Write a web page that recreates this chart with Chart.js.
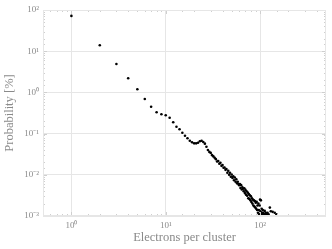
<!DOCTYPE html>
<html>
<head>
<meta charset="utf-8">
<script src="https://cdn.jsdelivr.net/npm/chart.js@4/dist/chart.umd.min.js"></script>
<style>
  html, body { margin: 0; padding: 0; background: #fff; }
  canvas { display: block; }
</style>
</head>
<body>
<canvas id="myChart" width="332" height="249"></canvas>
<script>
// electrons per cluster and measured probability in percent
var electrons = [1,2,3,4,5,6,7,8,9,10,
  11,12,13,14,15,16,17,18,19,20,
  21,22,23,24,25,26,27,28,29,30,
  31,32,33,34,35,36,37,38,39,40,
  41,42,43,44,45,46,47,48,49,50,
  51,52,53,54,55,56,57,58,59,60,
  61,62,63,64,65,66,67,68,69,70,
  71,72,73,74,75,76,77,78,79,80,
  81,82,83,84,85,86,87,88,89,90,
  91,92,93,94,95,96,97,98,99,100,
  101,102,103,104,105,106,107,108,110,112,
  113,115,118,120,123,127,130,136,143,149]
var probability = [72,14,4.9,2.2,1.19,0.69,0.45,0.33,0.294,0.278,
  0.243,0.188,0.147,0.127,0.105,0.089,0.077,0.067,0.0615,0.058,
  0.058,0.060,0.065,0.067,0.0625,0.057,0.048,0.040,0.036,0.034,
  0.030,0.028,0.026,0.024,0.021,0.0215,0.0185,0.0195,0.0165,0.0172,
  0.0148,0.0150,0.0132,0.0138,0.0112,0.0125,0.0100,0.0112,0.0090,0.0102,
  0.0084,0.0092,0.0074,0.0086,0.0068,0.0078,0.0062,0.0068,0.0060,0.0056,
  0.0060,0.0048,0.0056,0.0044,0.0050,0.0046,0.0040,0.0047,0.0036,0.0043,
  0.0033,0.0040,0.0031,0.0037,0.0027,0.0034,0.0026,0.0032,0.0024,0.0030,
  0.0022,0.0027,0.0020,0.0025,0.0018,0.0024,0.0017,0.0023,0.0016,0.0021,
  0.0015,0.0022,0.0014,0.0018,0.0012,0.0020,0.0014,0.0011,0.0018,0.0025,
  0.0013,0.0024,0.0011,0.0015,0.0012,0.0011,0.0014,0.0012,0.0011,0.00133,
  0.0011,0.0012,0.0011,0.0012,0.0011,0.0016,0.0013,0.00126,0.0012,0.0011]

var xMin = 0.5, xMax = 500
var yMin = 0.001, yMax = 100

var textColor = '#8a8a8a'
var gridColor = '#e6e6e6'

function isDecade(v) {
    var l = Math.log10(v)
    return Math.abs(l - Math.round(l)) < 1e-9
}
var supChars = {'0':'⁰','1':'¹','2':'²','3':'³','4':'⁴','5':'⁵','6':'⁶','7':'⁷','8':'⁸','9':'⁹','-':'⁻'}
function powLabel(v) {
    if (!isDecade(v)) return ''
    var e = String(Math.round(Math.log10(v)))
    return '10' + e.split('').map(function(c){ return supChars[c] }).join('')
}

// small inward ticks on all four sides, like the original frame
var minorTicks = {
    id: 'minorTicks',
    afterDraw: function(chart) {
        var ctx = chart.ctx, a = chart.chartArea
        var x = chart.scales.x, y = chart.scales.y
        ctx.save()
        ctx.strokeStyle = '#cfcfcf'
        ctx.lineWidth = 1
        ctx.beginPath()
        x.ticks.forEach(function(t){
            var px = Math.round(x.getPixelForValue(t.value)) + 0.5
            if (px < a.left || px > a.right) return
            var len = isDecade(t.value) ? 4 : 2
            ctx.moveTo(px, a.bottom); ctx.lineTo(px, a.bottom - len)
            ctx.moveTo(px, a.top); ctx.lineTo(px, a.top + len)
        })
        y.ticks.forEach(function(t){
            var py = Math.round(y.getPixelForValue(t.value)) + 0.5
            if (py < a.top || py > a.bottom) return
            var len = isDecade(t.value) ? 4 : 2
            ctx.moveTo(a.left, py); ctx.lineTo(a.left + len, py)
            ctx.moveTo(a.right, py); ctx.lineTo(a.right - len, py)
        })
        ctx.stroke()
        ctx.strokeStyle = gridColor
        ctx.strokeRect(a.left + 0.5, a.top + 0.5, a.right - a.left - 1, a.bottom - a.top - 1)
        ctx.restore()
    }
}

var points = electrons.map(function(n, i){ return {x: n, y: probability[i]} })

var myChart = document.getElementById('myChart').getContext('2d')
var chart = new Chart(myChart, {
    type: 'scatter',
    data: {
        datasets: [{
            data: points,
            backgroundColor: '#000',
            borderColor: '#000',
            pointRadius: 1.3,
            pointBorderWidth: 0
        }]
    },
    options: {
        responsive: false,
        animation: false,
        devicePixelRatio: 1,
        layout: { padding: { top: 10, right: 6, left: 0, bottom: 0 } },
        plugins: { legend: { display: false }, tooltip: { enabled: false } },
        scales: {
            x: {
                type: 'logarithmic',
                min: xMin, max: xMax,
                afterFit: function(s){ s.height = 33 },
                border: { display: false },
                grid: {
                    drawTicks: false,
                    color: function(c){ return c.tick && isDecade(c.tick.value) ? gridColor : 'rgba(0,0,0,0)' }
                },
                ticks: {
                    autoSkip: false, maxRotation: 0, padding: 4,
                    color: textColor,
                    font: { family: 'Liberation Serif', size: 9 },
                    callback: function(v){ return powLabel(v) }
                },
                title: {
                    display: true, text: 'Electrons per cluster',
                    color: textColor,
                    font: { family: 'Liberation Serif', size: 12.5 },
                    padding: { top: 0, bottom: 4 }
                }
            },
            y: {
                type: 'logarithmic',
                min: yMin, max: yMax,
                afterFit: function(s){ s.width = 43 },
                border: { display: false },
                grid: {
                    drawTicks: false,
                    color: function(c){ return c.tick && isDecade(c.tick.value) ? gridColor : 'rgba(0,0,0,0)' }
                },
                ticks: {
                    autoSkip: false, padding: 4,
                    color: textColor,
                    font: { family: 'Liberation Serif', size: 9 },
                    callback: function(v){ return powLabel(v) }
                },
                title: {
                    display: true, text: 'Probability [%]',
                    color: textColor,
                    font: { family: 'Liberation Serif', size: 12.5 },
                    padding: { top: 2, bottom: 0 }
                }
            }
        }
    },
    plugins: [minorTicks]
})
</script>
</body>
</html>
